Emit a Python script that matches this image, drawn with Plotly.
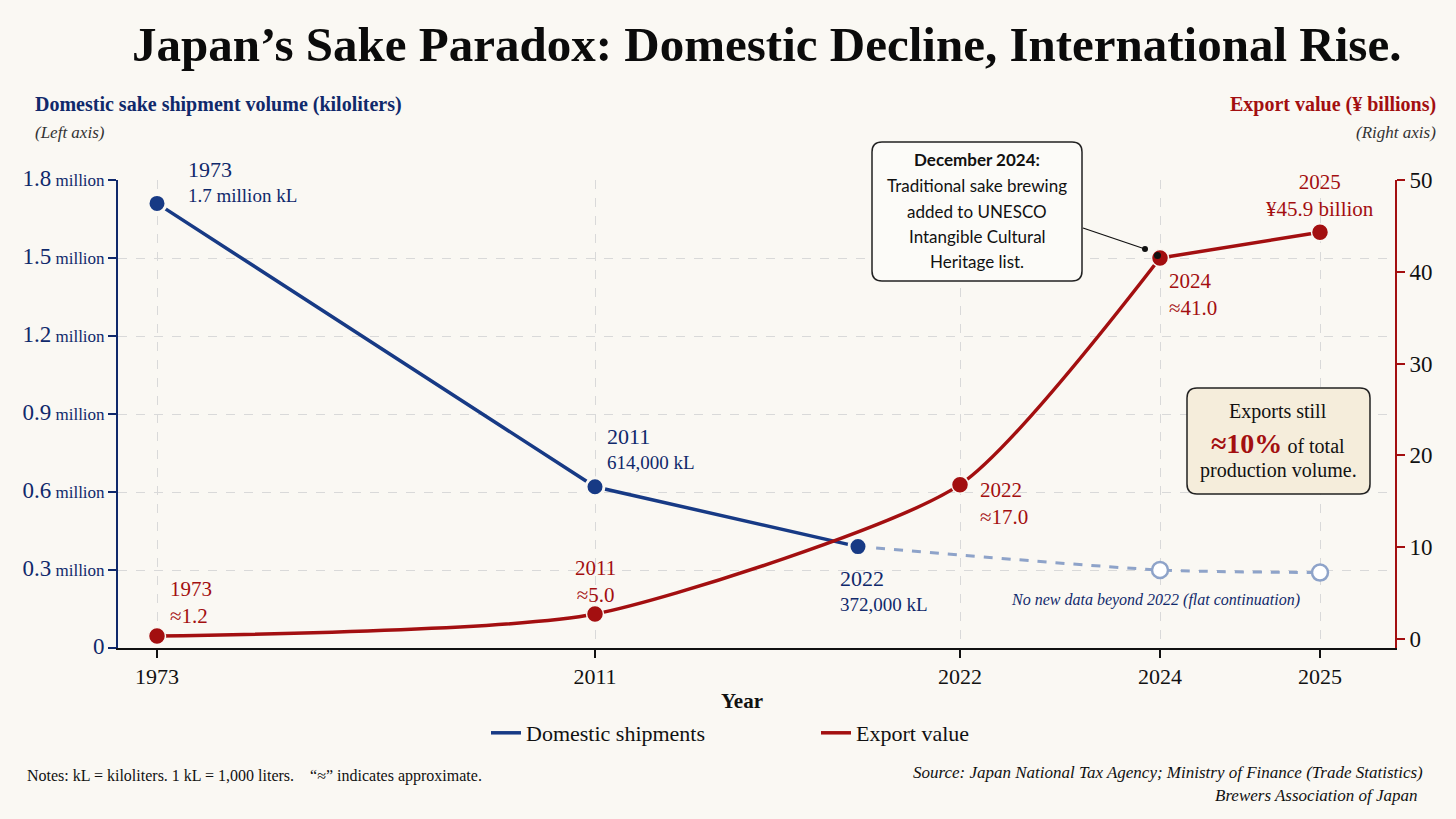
import plotly.graph_objects as go

# ---------------- DATA ----------------
years = ["1973", "2011", "2022", "2024", "2025"]
year_slot = [0.39, 4.77, 8.42, 10.42, 12.02]          # axis slot of each year label

dom_slot = [0.39, 4.77, 7.40]                          # domestic points as drawn
dom_volume = [1.71, 0.62, 0.39]                        # million kL
dom_years = ["1973", "2011", "2022"]
dom_text = ["1.7 million kL", "614,000 kL", "372,000 kL"]

proj_slot = [7.40, 10.42, 12.02]                       # flat continuation
proj_volume = [0.39, 0.30, 0.29]

exp_slot = year_slot
exp_value = [0.3, 2.7, 16.8, 41.5, 44.3]               # ¥ billions (as drawn)
exp_text = ["≈1.2", "≈5.0", "≈17.0", "≈41.0", "¥45.9 billion"]

left_ticks = [0, 0.3, 0.6, 0.9, 1.2, 1.5, 1.8]
left_tick_num = ["0", "0.3", "0.6", "0.9", "1.2", "1.5", "1.8"]
right_ticks = [0, 10, 20, 30, 40, 50]

# ---------------- STYLE ----------------
W, H = 1456, 819
ML, MR, MT, MB = 118, 61, 180, 171
PW, PH = W - ML - MR, H - MT - MB
BG = "#faf8f3"
NAVY = "#10296b"
BLUE = "#173a85"
LIGHTBLUE = "#8ea3c9"
RED = "#a30f10"
SERIF = "Liberation Serif, Times New Roman, serif"
SANS = "Lato, Open Sans, sans-serif"


def PX(px):
    return (px - ML) / PW


def PY(py):
    return (H - MB - py) / PH


fig = go.Figure()

# Export value line (smooth through first four, straight to last)
fig.add_trace(go.Scatter(
    x=exp_slot[:4], y=exp_value[:4], yaxis="y2", mode="lines",
    line=dict(color=RED, width=3.5, shape="spline", smoothing=0.6),
    name="Export value", legendrank=2, hoverinfo="skip"))
fig.add_trace(go.Scatter(
    x=exp_slot[3:], y=exp_value[3:], yaxis="y2", mode="lines",
    line=dict(color=RED, width=3.5), showlegend=False, hoverinfo="skip"))
fig.add_trace(go.Scatter(
    x=exp_slot, y=exp_value, yaxis="y2", mode="markers",
    marker=dict(color=RED, size=17, line=dict(color=BG, width=1.5)),
    showlegend=False))

# Domestic continuation (dashed)
fig.add_trace(go.Scatter(
    x=proj_slot, y=proj_volume, mode="lines",
    line=dict(color=LIGHTBLUE, width=3, dash="dash", shape="spline", smoothing=0.6),
    showlegend=False, hoverinfo="skip"))
fig.add_trace(go.Scatter(
    x=proj_slot[1:], y=proj_volume[1:], mode="markers",
    marker=dict(color="white", size=16, line=dict(color=LIGHTBLUE, width=2.5)),
    showlegend=False))

# Domestic shipments line
fig.add_trace(go.Scatter(
    x=dom_slot, y=dom_volume, mode="lines",
    line=dict(color=BLUE, width=3.5),
    name="Domestic shipments", legendrank=1, hoverinfo="skip"))
fig.add_trace(go.Scatter(
    x=dom_slot, y=dom_volume, mode="markers",
    marker=dict(color=BLUE, size=18, line=dict(color=BG, width=3)),
    showlegend=False))

ann = []


def text(x, y, t, size, color="#111", xanchor="center", family=SERIF, xref="paper", yref="paper", **kw):
    ann.append(dict(x=x, y=y, xref=xref, yref=yref, text=t, showarrow=False,
                    xanchor=xanchor, yanchor="middle", align=xanchor,
                    font=dict(family=family, size=size, color=color), **kw))


# Title and axis headers
text(PX(766), PY(45), "<b>Japan’s Sake Paradox: Domestic Decline, International Rise.</b>", 49, "#0b0b0b")
text(PX(33), PY(105), "<b>Domestic sake shipment volume (kiloliters)</b>", 20, NAVY, "left")
text(PX(33), PY(133), "<i>(Left axis)</i>", 17, "#333", "left")
text(PX(1438), PY(105), "<b>Export value (¥ billions)</b>", 20, RED, "right")
text(PX(1438), PY(133), "<i>(Right axis)</i>", 17, "#333", "right")
text(PX(742), PY(701), "<b>Year</b>", 21, "#111")

# Domestic labels
dom_offsets = [(29, 22, "left"), (10, 38, "left"), (-20, -44, "left")]
for i, (dx, dy, xa) in enumerate(dom_offsets):
    text(dom_slot[i], dom_volume[i],
         f"<span style='font-size:22px'>{dom_years[i]}</span><br>{dom_text[i]}",
         19, NAVY, xa, xref="x", yref="y", xshift=dx, yshift=dy)

# Export labels
exp_offsets = [(11, 34, "left"), (0, 33, "center"), (18, -19, "left"), (7, -36, "left"), (0, 37, "center")]
for i, (dx, dy, xa) in enumerate(exp_offsets):
    text(exp_slot[i], exp_value[i], f"{years[i]}<br>{exp_text[i]}", 21, RED, xa,
         xref="x", yref="y2", xshift=dx, yshift=dy)

text(PX(1155), PY(600), "<i>No new data beyond 2022 (flat continuation)</i>", 16, NAVY)

# UNESCO callout lines
text(PX(977), PY(160), "<b>December 2024:</b>", 17, "#111", family=SANS)
for j, line in enumerate(["Traditional sake brewing", "added to UNESCO",
                          "Intangible Cultural", "Heritage list."]):
    text(PX(977), PY(186 + 25 * j), line, 17, "#111", family=SANS)

# Exports share box text
text(PX(1278), PY(411), "Exports still", 20, "#111")
text(PX(1278), PY(443),
     f"<b><span style='font-size:28px;color:{RED}'>≈10%</span></b> of total", 20, "#111")
text(PX(1278), PY(470), "production volume.", 20, "#111")

# Notes and source
text(PX(25), PY(776), "Notes: kL = kiloliters. 1 kL = 1,000 liters.    “≈” indicates approximate.", 16, "#111", "left")
text(PX(1425), PY(772), "<i>Source: Japan National Tax Agency; Ministry of Finance (Trade Statistics)</i>", 17, "#111", "right")
text(PX(1420), PY(795), "<i>Brewers Association of Japan</i>", 17, "#111", "right")


def rrect(x0, y0, x1, y1, r):
    rx, ry = r / PW, r / PH
    X0, X1, Y0, Y1 = PX(x0), PX(x1), PY(y0), PY(y1)
    return (f"M {X0+rx},{Y0} L {X1-rx},{Y0} Q {X1},{Y0} {X1},{Y0-ry} "
            f"L {X1},{Y1+ry} Q {X1},{Y1} {X1-rx},{Y1} L {X0+rx},{Y1} "
            f"Q {X0},{Y1} {X0},{Y1+ry} L {X0},{Y0-ry} Q {X0},{Y0} {X0+rx},{Y0} Z")


shapes = [
    dict(type="path", xref="paper", yref="paper", path=rrect(872, 142, 1082, 281, 10),
         fillcolor="#fcfbf8", line=dict(color="#222", width=1.5), layer="above"),
    dict(type="path", xref="paper", yref="paper", path=rrect(1187, 388, 1370, 494, 10),
         fillcolor="#f5eddb", line=dict(color="#222", width=1.5), layer="above"),
    dict(type="line", xref="paper", yref="paper", x0=PX(1083), y0=PY(228), x1=PX(1145), y1=PY(249),
         line=dict(color="#111", width=1.3), layer="above"),
    dict(type="circle", xref="paper", yref="paper", x0=PX(1142), y0=PY(246), x1=PX(1148), y1=PY(252),
         fillcolor="#111", line=dict(width=0), layer="above"),
    dict(type="circle", xref="paper", yref="paper", x0=PX(1154), y0=PY(252), x1=PX(1161), y1=PY(259),
         fillcolor="#111", line=dict(width=0), layer="above"),
]

left_text = [f"<span style='font-size:23px'>{n}</span>" + (" million" if n != "0" else "")
             for n in left_tick_num]

fig.update_layout(
    width=W, height=H,
    margin=dict(l=ML, r=MR, t=MT, b=MB, autoexpand=False),
    paper_bgcolor=BG, plot_bgcolor=BG,
    font=dict(family=SERIF, color="#111"),
    showlegend=True,
    legend=dict(orientation="h", x=PX(486), xanchor="left", y=PY(733), yanchor="middle",
                font=dict(family=SERIF, size=22, color="#111"), bgcolor="rgba(0,0,0,0)",
                entrywidth=285, entrywidthmode="pixels", tracegroupgap=0),
    xaxis=dict(range=[0, PW / 100], tickvals=year_slot, ticktext=years,
               showgrid=True, gridcolor="#d9d9d9", griddash="dash", gridwidth=1,
               showline=True, linecolor="#111", linewidth=2, zeroline=False,
               ticks="outside", ticklen=8, tickwidth=2, tickcolor="#111",
               tickfont=dict(family=SERIF, size=22, color="#111")),
    yaxis=dict(range=[0, 1.8], tickvals=left_ticks, ticktext=left_text,
               showgrid=True, gridcolor="#d9d9d9", griddash="dash", gridwidth=1,
               showline=True, linecolor=NAVY, linewidth=2, zeroline=False,
               ticks="outside", ticklen=8, tickwidth=2, tickcolor=NAVY,
               tickfont=dict(family=SERIF, size=17, color=NAVY)),
    yaxis2=dict(range=[-1, 50], tickvals=right_ticks, overlaying="y", side="right",
                showgrid=False, showline=True, linecolor=RED, linewidth=2, zeroline=False,
                ticks="outside", ticklen=8, tickwidth=2, tickcolor=RED,
                tickfont=dict(family=SERIF, size=23, color="#111")),
    annotations=ann, shapes=shapes,
)

fig.write_html("out.html", config={"displayModeBar": False},
               post_script="document.body.style.margin='0';document.body.style.background='" + BG + "';")
